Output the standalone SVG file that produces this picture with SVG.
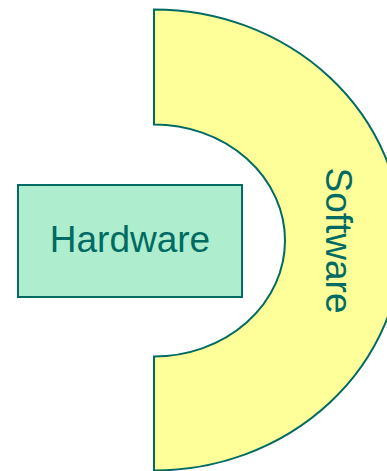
<svg xmlns="http://www.w3.org/2000/svg" width="387" height="471" viewBox="0 0 387 471">
<style>
.shape{stroke:#006b63;stroke-width:2}
.lbl{font-family:"Liberation Sans",Arial,sans-serif;font-size:37px;fill:#006b63}
</style>
<rect width="387" height="471" fill="#ffffff"/>
<g id="software">
<path class="shape" fill="#ffff99" d="M154,9.5 A248,230.5 0 0 1 154,470.5 L154,356.5 A131,116 0 0 0 154,124.5 Z"/>
<text class="lbl" text-anchor="middle" transform="translate(326,240.5) rotate(90)">Software</text>
</g>
<g id="hardware">
<rect class="shape" fill="#aeeecf" x="18" y="185" width="224" height="112"/>
<text class="lbl" x="130" y="251.5" text-anchor="middle">Hardware</text>
</g>
<g id="connectors"></g>
</svg>
